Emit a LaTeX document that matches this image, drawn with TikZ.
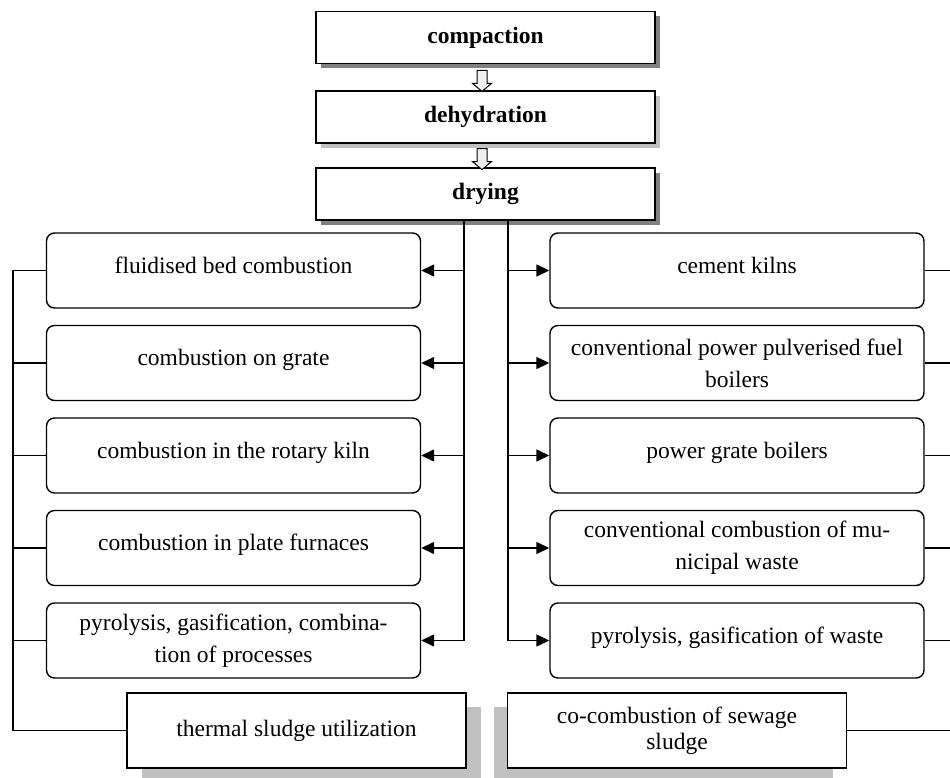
\documentclass[tikz,border=0pt]{standalone}
\usepackage{fontspec}
\setmainfont{Liberation Serif}
\usetikzlibrary{positioning,calc,arrows.meta,shapes.arrows,shadows}
\definecolor{ShadowDark}{RGB}{128,128,128}
\definecolor{ShadowLight}{RGB}{192,192,192}
\definecolor{ArrowFill}{RGB}{240,240,240}

\begin{document}
\begin{tikzpicture}[
    x=1pt, y=-1pt,
    font=\fontsize{23.5}{32}\selectfont,
    >={Triangle[length=13pt,width=12pt]},
    stage/.style={draw, line width=1.4pt, fill=white, minimum width=339pt, minimum height=52pt, font=\fontsize{23.5}{32}\selectfont\bfseries},
    darkshadow/.style={general shadow={fill=ShadowDark, shadow xshift=5pt, shadow yshift=-5pt}},
    lightshadow/.style={general shadow={fill=ShadowLight, shadow xshift=5pt, shadow yshift=-5pt}},
    method/.style={draw, line width=1.4pt, rounded corners=8pt, align=center, minimum width=374pt, minimum height=75pt, inner sep=2pt},
    oneline/.style={text height=16pt, text depth=11pt},
    result/.style={draw, line width=1.4pt, fill=white, align=center, minimum width=339pt, minimum height=75pt},
    hollow/.style={draw, single arrow, shape border rotate=270, fill=ArrowFill, line width=1pt, minimum height=21pt, inner sep=4.5pt, single arrow head extend=4.5pt, single arrow tip angle=100},
    link/.style={line width=1.4pt},
    arrow/.style={->, line width=1.4pt}
]
\useasboundingbox (0,0) rectangle (950,778);

\node[stage, darkshadow] (compaction) at (485.5,37.5) {compaction};
\node[stage, lightshadow] (dehydration) at (485.5,117) {dehydration};
\node[stage, darkshadow] (drying) at (485.5,194) {drying};
\node[hollow] (arrowA) at ($(compaction.south)!0.5!(dehydration.north)+(-3.5,1.5)$) {};
\node[hollow] (arrowB) at ($(dehydration.south)!0.5!(drying.north)+(-3.5,1.5)$) {};

\node[method, oneline] (fbc) at (233.5,270.5) {fluidised bed combustion};
\node[method, oneline] (grate) at (233.5,363) {combustion on grate};
\node[method, oneline] (rotary) at (233.5,455.5) {combustion in the rotary kiln};
\node[method, oneline] (plate) at (233.5,548) {combustion in plate furnaces};
\node[method] (pyro) at (233.5,640.5) {pyrolysis, gasification, combina-\\tion of processes};

\node[method, oneline] (cement) at (737,270.5) {cement kilns};
\node[method] (pulver) at (737,363) {conventional power pulverised fuel\\boilers};
\node[method, oneline] (powergrate) at (737,455.5) {power grate boilers};
\node[method] (municipal) at (737,548) {conventional combustion of mu-\\nicipal waste};
\node[method, oneline] (waste) at (737,640.5) {pyrolysis, gasification of waste};

\node[result, general shadow={fill=ShadowLight, shadow xshift=15pt, shadow yshift=-14pt}] (thermal) at (296.5,730.5) {thermal sludge utilization};
\node[result, font=\fontsize{23.5}{26}\selectfont, general shadow={fill=ShadowLight, shadow xshift=-14pt, shadow yshift=-14pt}] (cocomb) at (677,730.5) {co-combustion of sewage\\sludge};

\coordinate (ltrunk) at ([xshift=-21.5pt]drying.south);
\coordinate (rtrunk) at ([xshift=22.5pt]drying.south);
\coordinate (lrail) at (13,0);
\coordinate (rrail) at (950,0);

\draw[arrow] (ltrunk) |- (pyro.east);
\foreach \n in {fbc,grate,rotary,plate}
    \draw[arrow] (ltrunk |- \n.east) -- (\n.east);
\draw[arrow] (rtrunk) |- (waste.west);
\foreach \n in {cement,pulver,powergrate,municipal}
    \draw[arrow] (rtrunk |- \n.west) -- (\n.west);

\draw[link] (fbc.west) -- (fbc.west -| lrail) |- (thermal.west);
\foreach \n in {grate,rotary,plate,pyro}
    \draw[link] (\n.west) -- (\n.west -| lrail);
\foreach \n in {cement,pulver,powergrate,municipal,waste,cocomb}
    \draw[link] (\n.east) -- (\n.east -| rrail);
\end{tikzpicture}
\end{document}
